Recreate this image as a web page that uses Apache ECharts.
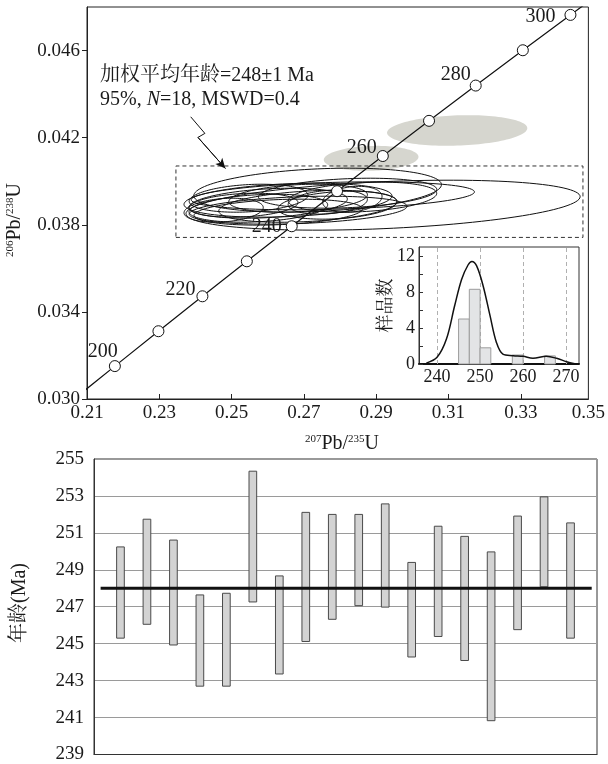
<!DOCTYPE html>
<html><head><meta charset="utf-8">
<script src="https://cdn.jsdelivr.net/npm/echarts@6/dist/echarts.min.js"></script>
<style>html,body{margin:0;padding:0;background:#fff}#c{width:608px;height:764px}</style>
</head><body><div id="c"></div>
<script>
// ---- Concordia reference points (age in Ma) ----
const concAges = [190,200,210,220,230,240,250,260,270,280,290,300,310];
const concX = [0.20577,0.21771,0.22976,0.24193,0.25422,0.26664,0.27917,0.29183,0.30462,0.31753,0.33057,0.34374,0.35704];
const concY = [0.029912,0.031511,0.033112,0.034716,0.036323,0.037932,0.039543,0.041157,0.042773,0.044392,0.046014,0.047637,0.049264];
const concLabelAges = [200,220,240,260,280,300];

// ---- Concordant analyses (error ellipses) ----
const ellX    = [0.2919,0.2780,0.2738,0.2656,0.2601,0.2684,0.2533,0.2766,0.2834,0.2574,0.2478,0.2711,0.2821,0.2862,0.2629,0.2547,0.2684,0.2793];
const ellXErr = [0.05452,0.03918,0.03425,0.02877,0.02192,0.01918,0.01507,0.01096,0.00822,0.01918,0.01096,0.02466,0.02466,0.02055,0.02329,0.01644,0.03014,0.01644];
const ellY    = [0.03890,0.03933,0.03959,0.03913,0.03899,0.03922,0.03890,0.03904,0.03917,0.03876,0.03867,0.03885,0.03945,0.03927,0.03858,0.03922,0.03867,0.03890];
const ellYErr = [0.001147,0.000642,0.001009,0.00078,0.000688,0.000642,0.00055,0.00055,0.000596,0.000642,0.00055,0.000734,0.000688,0.000688,0.000596,0.000642,0.000642,0.000642];
const ellRho  = [0.34,0.28,0.25,0.25,0.28,0.25,0.22,0.22,0.22,0.25,0.22,0.30,0.25,0.25,0.25,0.22,0.28,0.25];

// ---- Excluded analyses (grey ellipses) ----
const exX = [0.2886, 0.3124];
const exXErr = [0.0131, 0.0194];
const exY = [0.04105, 0.04233];
const exYErr = [0.000574, 0.000703];
const exRho = [0.12, 0.15];

// ---- dashed selection box and arrow ----
const boxX = [0.2346, 0.3472];
const boxY = [0.03742, 0.04070];
const arrowX = [0.23869, 0.24261, 0.24069, 0.24828];
const arrowY = [0.042958, 0.042196, 0.042012, 0.040589];

// ---- inset histogram ----
const binLeft = [245, 247.5, 250, 257.5, 265];
const binWidth = 2.5;
const binCount = [5.0, 8.3, 1.8, 1.0, 0.9];
const pdfAge = [237.5,240,242.2,244.1,245.7,247.2,248.1,249.2,250.7,252.3,253.8,255.3,257.7,260,262.3,265.4,267.8,270.1,272];
const pdfVal = [0.1,0.74,2.8,6.5,9.4,11.0,11.4,10.9,8.7,5.4,2.4,1.1,0.93,0.85,0.63,0.85,0.63,0.26,0.03];
const histXTicks = [240,250,260,270];
const histYLabels = [0,4,8,12];
const histYTicks = [0,2,4,6,8,10,12];

// ---- spot ages (bottom chart) ----
const spotNo  = [1,2,3,4,5,6,7,8,9,10,11,12,13,14,15,16,17,18];
const ageHigh = [250.24,251.74,250.61,247.64,247.73,254.34,248.67,252.11,252.0,252.0,252.57,249.40,251.36,250.81,249.97,251.91,252.95,251.54];
const ageLow  = [245.30,246.05,244.93,242.70,242.70,247.26,243.36,245.12,246.32,247.06,246.98,244.28,245.39,244.09,240.83,245.76,248.08,245.30];
const meanAge = 248;
const meanSpan = [0.25, 18.8];

// ---- tick labels ----
const xTickLabels = [0.21,0.23,0.25,0.27,0.29,0.31,0.33,0.3487];
const xTicks = [0.23,0.25,0.27,0.29,0.31,0.33];
const yTickLabels = [0.030,0.034,0.038,0.042,0.046];

const FONT = "'Liberation Serif','Noto Serif CJK SC','Noto Sans CJK SC',serif";
const INK = '#1a1a1a';

function ellipseRender(fill, stroke) {
  return function (params, api) {
    const cx = api.value(0), cy = api.value(1), sx = api.value(2), sy = api.value(3), r = api.value(4);
    const k = Math.sqrt(1 - r * r);
    const pts = [];
    for (let i = 0; i < 120; i++) {
      const t = i / 120 * Math.PI * 2, u = Math.cos(t), v = Math.sin(t);
      pts.push(api.coord([cx + sx * u, cy + sy * (r * u + k * v)]));
    }
    return { type: 'polygon', shape: { points: pts },
      style: { fill: fill, stroke: stroke, lineWidth: 1 } };
  };
}

const labelOffsets = {200:[14,-14],220:[4,-7],240:[1,0],260:[5,-8],280:[6,-11],300:[-4,2]};

const concLine = concAges.map((a, i) => [concX[i], concY[i]]);
const concPts = [];
concAges.forEach((a, i) => {
  if (a < 200 || a > 300) return;
  const item = { value: [concX[i], concY[i], a] };
  if (concLabelAges.indexOf(a) >= 0) {
    item.label = { show: true, position: 'left', distance: 5, offset: labelOffsets[a],
      formatter: String(a), fontSize: 20, color: INK, fontFamily: FONT };
  }
  concPts.push(item);
});

const option = {
  animation: false,
  backgroundColor: '#fff',
  textStyle: { fontFamily: FONT, color: INK },
  grid: [
    { left: 87, top: 7, width: 506, height: 392, show: true, borderColor: '#222', borderWidth: 1, backgroundColor: 'transparent' },
    { left: 419, top: 247, width: 160, height: 117, show: true, borderColor: '#333', borderWidth: 1, backgroundColor: '#fff' },
    { left: 94, top: 459, width: 503, height: 299, show: true, borderColor: '#333', borderWidth: 1 }
  ],
  xAxis: [
    { type: 'value', gridIndex: 0, min: 0.21, max: 0.3487,
      axisLine: { show: true, lineStyle: { color: '#222', width: 1 } },
      axisTick: { show: true, inside: true, length: 5, customValues: xTicks, lineStyle: { color: '#222' } },
      axisLabel: { customValues: xTickLabels, formatter: v => v.toFixed(2), fontSize: 19, margin: 5, color: INK, fontFamily: FONT },
      splitLine: { show: false } },
    { type: 'value', gridIndex: 1, min: 235.8, max: 273,
      axisLine: { show: true, lineStyle: { color: '#111', width: 2 } },
      axisTick: { show: false },
      axisLabel: { customValues: histXTicks, fontSize: 18, margin: 4, color: INK, fontFamily: FONT },
      splitLine: { show: false } },
    { type: 'value', gridIndex: 2, min: 0, max: 19,
      axisLine: { show: true, lineStyle: { color: '#333' } },
      axisTick: { show: false }, axisLabel: { show: false }, splitLine: { show: false } }
  ],
  yAxis: [
    { type: 'value', gridIndex: 0, min: 0.030, max: 0.048,
      axisLine: { show: true, lineStyle: { color: '#222', width: 1 } },
      axisTick: { show: true, inside: false, length: 5, customValues: yTickLabels, lineStyle: { color: '#222' } },
      axisLabel: { customValues: yTickLabels, formatter: v => v.toFixed(3), fontSize: 19, margin: 7, color: INK, fontFamily: FONT },
      splitLine: { show: false } },
    { type: 'value', gridIndex: 1, min: 0, max: 13,
      axisLine: { show: true, lineStyle: { color: '#333', width: 1 } },
      axisTick: { show: true, inside: true, length: 4, customValues: histYTicks, lineStyle: { color: '#333' } },
      axisLabel: { customValues: histYLabels, fontSize: 18, margin: 4, color: INK, fontFamily: FONT },
      splitLine: { show: false },
      name: '样品数', nameLocation: 'middle', nameGap: 24, nameRotate: 90,
      nameTextStyle: { fontSize: 18, color: INK, fontFamily: "'Noto Serif CJK SC','Noto Sans CJK SC',serif" } },
    { type: 'value', gridIndex: 2, min: 239, max: 255, interval: 2,
      axisLine: { show: true, lineStyle: { color: '#333' } },
      axisTick: { show: false },
      axisLabel: { fontSize: 19, margin: 10, color: INK, fontFamily: FONT },
      splitLine: { show: true, lineStyle: { color: '#9a9a9a', width: 1 } } }
  ],
  series: [
    { type: 'custom', xAxisIndex: 0, yAxisIndex: 0, z: 1, clip: true,
      renderItem: ellipseRender('#d6d6cf', 'none'),
      data: exX.map((x, i) => [x, exY[i], exXErr[i], exYErr[i], exRho[i]]) },
    { type: 'custom', xAxisIndex: 0, yAxisIndex: 0, z: 2, clip: true,
      renderItem: ellipseRender('none', '#111'),
      data: ellX.map((x, i) => [x, ellY[i], ellXErr[i], ellYErr[i], ellRho[i]]) },
    { type: 'line', xAxisIndex: 0, yAxisIndex: 0, z: 2, symbol: 'none', clip: true,
      lineStyle: { color: '#333', width: 1, type: [4, 3] },
      data: [[boxX[0], boxY[0]], [boxX[1], boxY[0]], [boxX[1], boxY[1]], [boxX[0], boxY[1]], [boxX[0], boxY[0]]] },
    { type: 'line', xAxisIndex: 0, yAxisIndex: 0, z: 3, symbol: 'none', clip: true,
      lineStyle: { color: '#111', width: 1 },
      data: arrowX.map((x, i) => [x, arrowY[i]]),
      markLine: { silent: true, symbol: ['none', 'arrow'], symbolSize: [7, 10], label: { show: false },
        lineStyle: { color: '#111', width: 1, type: 'solid' },
        data: [[{ coord: [arrowX[2], arrowY[2]] }, { coord: [arrowX[3], arrowY[3]] }]] } },
    { type: 'line', xAxisIndex: 0, yAxisIndex: 0, z: 4, symbol: 'none', clip: true,
      lineStyle: { color: '#111', width: 1.2 }, data: concLine },
    { type: 'scatter', xAxisIndex: 0, yAxisIndex: 0, z: 5, symbol: 'circle', symbolSize: 11,
      itemStyle: { color: '#fff', borderColor: '#111', borderWidth: 1, opacity: 1 },
      data: concPts },
    // inset histogram
    { type: 'custom', xAxisIndex: 1, yAxisIndex: 1, z: 10,
      renderItem: function (params, api) {
        const a = api.coord([api.value(0), api.value(2)]);
        const b = api.coord([api.value(1), 0]);
        return { type: 'rect', shape: { x: a[0], y: a[1], width: b[0] - a[0], height: b[1] - a[1] },
          style: { fill: '#e3e4e6', stroke: '#9c9c9c', lineWidth: 1 } };
      },
      data: binLeft.map((l, i) => [l, l + binWidth, binCount[i]]),
      markLine: { silent: true, symbol: 'none', label: { show: false },
        lineStyle: { color: '#b0b0b0', width: 1, type: [4, 3] },
        data: histXTicks.map(v => ({ xAxis: v })) } },
    { type: 'line', xAxisIndex: 1, yAxisIndex: 1, z: 11, symbol: 'none', smooth: 0.35,
      lineStyle: { color: '#111', width: 1.5 },
      data: pdfAge.map((a, i) => [a, pdfVal[i]]) },
    // spot ages
    { type: 'custom', xAxisIndex: 2, yAxisIndex: 2, z: 10,
      renderItem: function (params, api) {
        const x = api.value(0);
        const a = api.coord([x, api.value(2)]);
        const b = api.coord([x, api.value(1)]);
        const w = api.size([0.29, 0])[0];
        return { type: 'rect', shape: { x: a[0] - w / 2, y: a[1], width: w, height: b[1] - a[1] },
          style: { fill: '#d3d3d3', stroke: '#4a4a4a', lineWidth: 1 } };
      },
      data: spotNo.map((n, i) => [n, ageLow[i], ageHigh[i]]) },
    { type: 'line', xAxisIndex: 2, yAxisIndex: 2, z: 12, symbol: 'none',
      lineStyle: { color: '#111', width: 3 },
      data: [[meanSpan[0], meanAge], [meanSpan[1], meanAge]] }
  ],
  graphic: [
    { type: 'text', x: 100, y: 76, z: 20,
      style: { text: '加权平均年龄=248±1 Ma', fontSize: 20, fontFamily: FONT, fill: INK,
        align: 'left', verticalAlign: 'middle', textAlign: 'left', textVerticalAlign: 'middle' } },
    { type: 'text', x: 100, y: 100, z: 20,
      style: { text: '95%, {i|N}=18, MSWD=0.4', fontSize: 20, fontFamily: FONT, fill: INK,
        align: 'left', verticalAlign: 'middle', textAlign: 'left', textVerticalAlign: 'middle',
        rich: { i: { fontStyle: 'italic', fontSize: 20, fontFamily: FONT, fill: INK } } } },
    { type: 'text', x: 15, y: 220, rotation: Math.PI / 2, z: 20,
      style: { text: '{s|206}{b|Pb/}{s|238}{b|U}', fill: INK,
        align: 'center', verticalAlign: 'middle', textAlign: 'center', textVerticalAlign: 'middle',
        rich: { s: { fontSize: 11, fontFamily: FONT, verticalAlign: 'top', fill: INK },
                b: { fontSize: 20, fontFamily: FONT, fill: INK } } } },
    { type: 'text', x: 342, y: 444, z: 20,
      style: { text: '{s|207}{b|Pb/}{s|235}{b|U}', fill: INK,
        align: 'center', verticalAlign: 'middle', textAlign: 'center', textVerticalAlign: 'middle',
        rich: { s: { fontSize: 11, fontFamily: FONT, verticalAlign: 'top', fill: INK },
                b: { fontSize: 20, fontFamily: FONT, fill: INK } } } },
    { type: 'text', x: 20, y: 603, rotation: Math.PI / 2, z: 20,
      style: { text: '年龄(Ma)', fontSize: 20, fontFamily: FONT, fill: INK,
        align: 'center', verticalAlign: 'middle', textAlign: 'center', textVerticalAlign: 'middle' } }
  ]
};

const chart = echarts.init(document.getElementById('c'), null, { renderer: 'canvas' });
chart.setOption(option);
</script>
</body></html>
